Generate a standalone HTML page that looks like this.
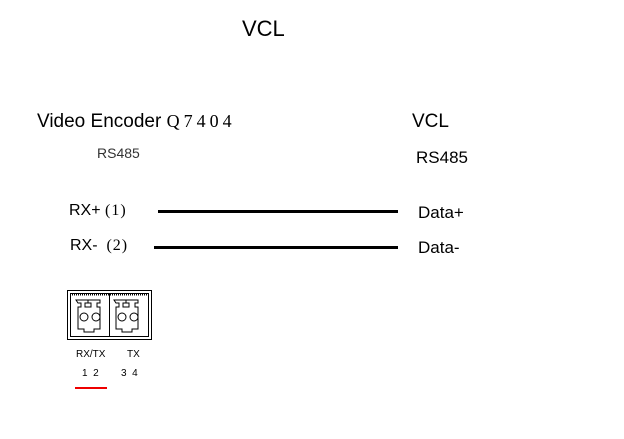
<!DOCTYPE html>
<html><head><style>
body{margin:0;width:624px;height:439px;background:#fff;position:relative;overflow:hidden;font-family:"Liberation Sans",sans-serif;color:#000}
.t{position:absolute;white-space:nowrap;line-height:1}
.l{position:absolute;background:#000;height:3px}
</style></head><body>
<div class="t" style="left:242px;top:18px;font-size:22px">VCL</div>
<div class="t" style="left:37px;top:112px;font-size:19px">Video Encoder <span style="font-family:'Liberation Serif',serif;font-size:18px;letter-spacing:4px">Q7404</span></div>
<div class="t" style="left:97px;top:146px;font-size:14px;color:#333">RS485</div>
<div class="t" style="left:412px;top:112px;font-size:19px">VCL</div>
<div class="t" style="left:416px;top:149px;font-size:17px">RS485</div>
<div class="t" style="left:69px;top:203px;font-size:16px">RX+ <span style="font-family:'Liberation Serif',serif;letter-spacing:1px">(1)</span></div>
<div class="t" style="left:70px;top:238px;font-size:16px">RX-&nbsp; <span style="font-family:'Liberation Serif',serif;letter-spacing:1px">(2)</span></div>
<div class="l" style="left:158px;top:210px;width:240px"></div>
<div class="l" style="left:154px;top:246px;width:244px"></div>
<div class="t" style="left:418px;top:204px;font-size:17px">Data+</div>
<div class="t" style="left:418px;top:239px;font-size:17px">Data-</div>
<svg style="position:absolute;left:0;top:0" width="624" height="439">
<g fill="none" stroke="#000" stroke-width="1">
<rect x="67.5" y="290.5" width="84" height="49"/>
<rect x="70.5" y="293.5" width="78" height="43"/>
<line x1="109.5" y1="293" x2="109.5" y2="337"/>
<line x1="70" y1="294.5" x2="149" y2="294.5" stroke-width="2" stroke-dasharray="1 1"/>
<path d="M76 300h12v3h-3v4h6v-4h-3v-3h12v3h-3v4h3v22h-6v3h-10v-3h-6v-22h3v-4h-3z"/>
<path d="M114 300h12v3h-3v4h6v-4h-3v-3h12v3h-3v4h3v22h-6v3h-10v-3h-6v-22h3v-4h-3z"/>
<circle cx="84" cy="317" r="4"/><circle cx="96" cy="317" r="4"/>
<circle cx="122" cy="317" r="4"/><circle cx="134" cy="317" r="4"/>
</g>
<text x="76" y="357" font-size="10" font-family="Liberation Sans">RX/TX</text>
<text x="127" y="357" font-size="10" font-family="Liberation Sans">TX</text>
<text x="82" y="376" font-size="10" font-family="Liberation Sans">1&#160;&#160;2</text>
<text x="121" y="376" font-size="10" font-family="Liberation Sans">3&#160;&#160;4</text>
<rect x="75" y="387" width="32" height="2" fill="#e00"/>
</svg>
</body></html>
